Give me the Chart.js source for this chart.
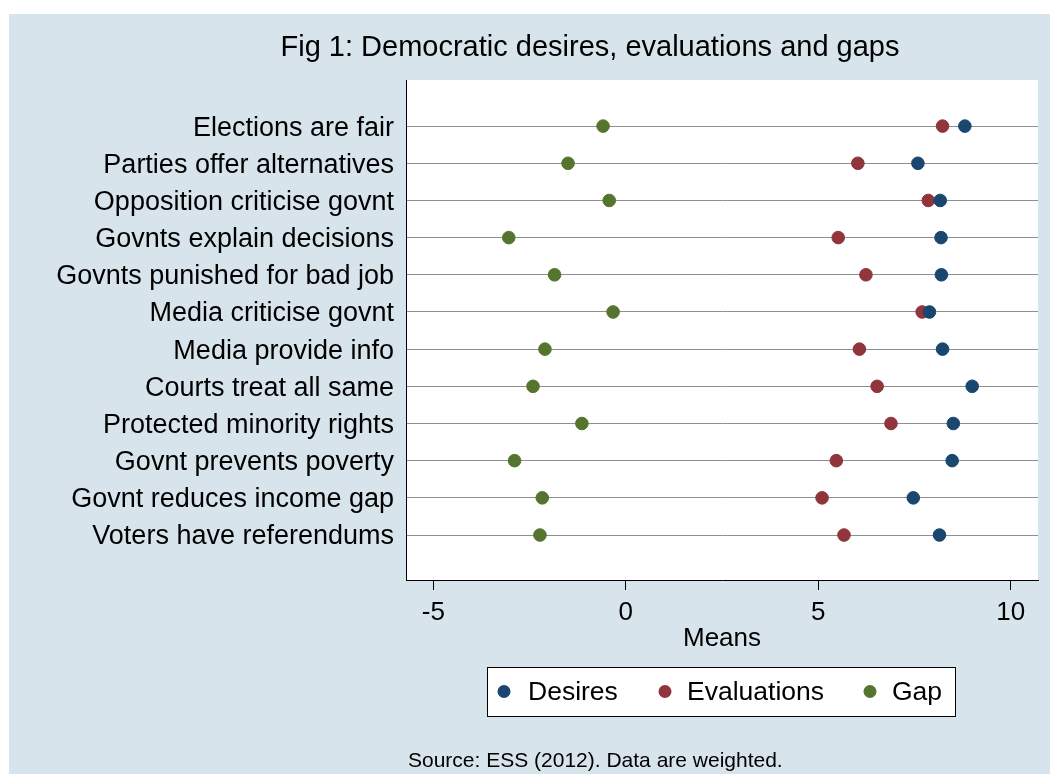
<!DOCTYPE html>
<html>
<head>
<meta charset="utf-8">
<script src="https://cdn.jsdelivr.net/npm/chart.js@4/dist/chart.umd.min.js"></script>
<style>
  html, body { margin: 0; padding: 0; background: #ffffff; }
  #wrap { width: 1050px; height: 774px; position: relative; }
</style>
</head>
<body>
<div id="wrap"><canvas id="c" width="1050" height="774"></canvas></div>
<script>
const categories = [
  "Elections are fair",
  "Parties offer alternatives",
  "Opposition criticise govnt",
  "Govnts explain decisions",
  "Govnts punished for bad job",
  "Media criticise govnt",
  "Media provide info",
  "Courts treat all same",
  "Protected minority rights",
  "Govnt prevents poverty",
  "Govnt reduces income gap",
  "Voters have referendums"
];
const desires     = [8.81, 7.59, 8.17, 8.19, 8.20, 7.89, 8.23, 9.00, 8.51, 8.48, 7.47, 8.15];
const evaluations = [8.23, 6.03, 7.86, 5.52, 6.24, 7.70, 6.07, 6.53, 6.89, 5.47, 5.10, 5.67];
const gap         = [-0.59, -1.50, -0.43, -3.04, -1.85, -0.33, -2.10, -2.41, -1.14, -2.89, -2.17, -2.23];
const xTicks = [-5, 0, 5, 10];
const seriesNames = ["Desires", "Evaluations", "Gap"];
const seriesColors = ["#1a476f", "#90353b", "#55752f"];
const titleText = "Fig 1: Democratic desires, evaluations and gaps";
const xTitle = "Means";
const sourceText = "Source: ESS (2012). Data are weighted.";

const FONT = "'Liberation Sans', Arial, sans-serif";

function pts(vals) { return vals.map((v, i) => ({ x: v, y: i })); }

const bgPlugin = {
  id: 'bg',
  beforeDraw(chart) {
    const ctx = chart.ctx;
    ctx.save();
    ctx.fillStyle = '#ffffff';
    ctx.fillRect(0, 0, chart.width, chart.height);
    ctx.fillStyle = '#d8e4eb';
    ctx.fillRect(9, 14, chart.width - 9, chart.height - 14);
    const a = chart.chartArea;
    ctx.fillStyle = '#ffffff';
    ctx.fillRect(a.left, a.top, a.right - a.left, a.bottom - a.top);
    ctx.restore();
  },
  afterDraw(chart) {
    const ctx = chart.ctx;
    ctx.save();
    // title
    ctx.fillStyle = '#000';
    ctx.font = "29px " + FONT;
    ctx.textAlign = 'center';
    ctx.textBaseline = 'alphabetic';
    ctx.fillText(titleText, 590, 56);
    // legend box
    const bx = 487, by = 667, bw = 468, bh = 49;
    ctx.fillStyle = '#ffffff';
    ctx.fillRect(bx, by, bw, bh);
    ctx.strokeStyle = '#000';
    ctx.lineWidth = 1;
    ctx.strokeRect(bx + 0.5, by + 0.5, bw, bh);
    const markerX = [504, 665, 870];
    const textX = [528, 687, 892];
    const cy = by + bh / 2;
    ctx.font = "26.5px " + FONT;
    ctx.textAlign = 'left';
    ctx.textBaseline = 'middle';
    chart.data.datasets.forEach((ds, i) => {
      ctx.fillStyle = ds.backgroundColor;
      ctx.beginPath();
      ctx.arc(markerX[i], cy, 6.5, 0, Math.PI * 2);
      ctx.fill();
      ctx.fillStyle = '#000';
      ctx.fillText(ds.label, textX[i], cy + 1);
    });
    // source note
    ctx.font = "21px " + FONT;
    ctx.textAlign = 'left';
    ctx.textBaseline = 'alphabetic';
    ctx.fillStyle = '#000';
    ctx.fillText(sourceText, 408, 767);
    ctx.restore();
  }
};

new Chart(document.getElementById('c'), {
  type: 'scatter',
  data: {
    datasets: [
      { label: seriesNames[0], data: pts(desires), backgroundColor: seriesColors[0], borderColor: seriesColors[0] },
      { label: seriesNames[1], data: pts(evaluations), backgroundColor: seriesColors[1], borderColor: seriesColors[1] },
      { label: seriesNames[2], data: pts(gap), backgroundColor: seriesColors[2], borderColor: seriesColors[2] }
    ]
  },
  plugins: [bgPlugin],
  options: {
    responsive: false,
    animation: false,
    devicePixelRatio: 1,
    layout: { padding: { top: 80, right: 12, bottom: 0, left: 0 } },
    elements: { point: { radius: 6.3, borderWidth: 1, hoverRadius: 6.3 } },
    plugins: {
      legend: { display: false },
      title: { display: false },
      tooltip: { enabled: false }
    },
    scales: {
      x: {
        type: 'linear',
        min: -5.71,
        max: 10.71,
        afterBuildTicks(scale) { scale.ticks = xTicks.map(v => ({ value: v })); },
        afterFit(scale) { scale.height = 194; },
        grid: { drawOnChartArea: false, drawTicks: true, tickLength: 10, color: '#000', lineWidth: 1 },
        border: { display: true, color: '#000', width: 1 },
        ticks: { color: '#000', font: { family: FONT, size: 26 }, padding: 7, maxRotation: 0 },
        title: { display: true, text: xTitle, color: '#000', font: { family: FONT, size: 26 }, padding: { top: 0, bottom: 120 } }
      },
      y: {
        type: 'linear',
        reverse: true,
        min: -1.24,
        max: 12.21,
        afterBuildTicks(scale) { scale.ticks = categories.map((c, i) => ({ value: i })); },
        afterFit(scale) { scale.width = 406; },
        grid: { drawTicks: false, tickLength: 0, color: '#8f8f8f', lineWidth: 1 },
        border: { display: true, color: '#000', width: 1 },
        ticks: {
          color: '#000',
          font: { family: FONT, size: 27 },
          padding: 12,
          labelOffset: 2,
          autoSkip: false,
          callback: (v) => categories[v]
        }
      }
    }
  }
});
</script>
</body>
</html>
